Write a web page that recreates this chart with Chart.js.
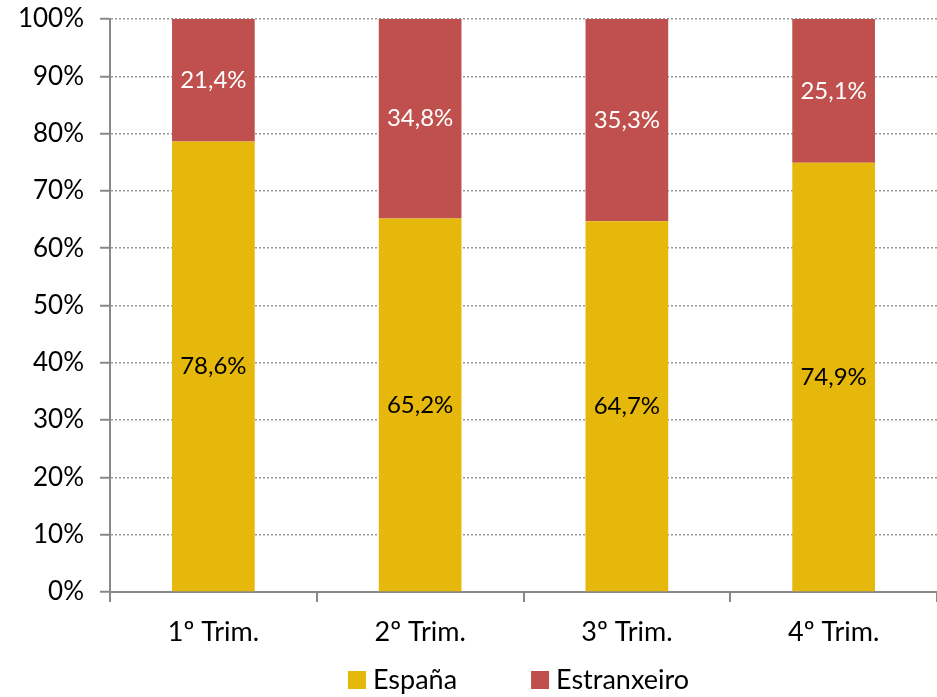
<!DOCTYPE html>
<html lang="gl">
<head>
  <meta charset="UTF-8" />
  <title>España / Estranxeiro por trimestre</title>
  <script src="https://cdn.jsdelivr.net/npm/chart.js"></script>
  <style>
    body { margin: 0; background: #fff; }
    .wrap { width: 937px; height: 697px; }
  </style>
</head>
<body>
  <div class="wrap"><canvas id="chart"></canvas></div>

  <script>
    // data
    const trimestres = ["1º Trim.", "2º Trim.", "3º Trim.", "4º Trim."];
    const espana = [78.6, 65.2, 64.7, 74.9];
    const estranxeiro = [21.4, 34.8, 35.3, 25.1];
    const yTicks = [0, 10, 20, 30, 40, 50, 60, 70, 80, 90, 100];

    const FONT = "Lato, 'Open Sans', sans-serif";

    // writes the value in the middle of each bar segment
    const barLabels = {
      id: "barLabels",
      afterDatasetsDraw(chart) {
        const ctx = chart.ctx;
        ctx.save();
        ctx.font = "24px " + FONT;
        ctx.textAlign = "center";
        ctx.textBaseline = "middle";
        chart.data.datasets.forEach((ds, i) => {
          const meta = chart.getDatasetMeta(i);
          meta.data.forEach((bar, j) => {
            const y = (bar.y + bar.base) / 2;
            ctx.fillStyle = ds.labelColor;
            ctx.fillText(ds.data[j].toFixed(1).replace(".", ",") + "%", bar.x, y);
          });
        });
        ctx.restore();
      }
    };

    // simple legend under the axis, square swatches like the original
    const bottomLegend = {
      id: "bottomLegend",
      afterDraw(chart) {
        const ctx = chart.ctx;
        const box = 18, gapText = 7, gapItem = 74;
        ctx.save();
        ctx.font = "27px " + FONT;
        ctx.textBaseline = "middle";
        const items = chart.data.datasets.map(ds => ({ text: ds.label, color: ds.backgroundColor, w: ctx.measureText(ds.label).width }));
        const total = items.reduce((s, it) => s + box + gapText + it.w, 0) + gapItem * (items.length - 1);
        const cx = (chart.chartArea.left + chart.chartArea.right) / 2 - 5;
        let x = cx - total / 2;
        const y = chart.height - 17;
        items.forEach(it => {
          ctx.fillStyle = it.color;
          ctx.fillRect(x, y - box / 2, box, box);
          x += box + gapText;
          ctx.fillStyle = "#000";
          ctx.fillText(it.text, x, y);
          x += it.w + gapItem;
        });
        ctx.restore();
      }
    };

    new Chart(document.getElementById("chart"), {
      type: "bar",
      data: {
        labels: trimestres,
        datasets: [
          { label: "España", data: espana, backgroundColor: "#E6B80B", labelColor: "#000" },
          { label: "Estranxeiro", data: estranxeiro, backgroundColor: "#C0504D", labelColor: "#fff" }
        ]
      },
      options: {
        responsive: true,
        maintainAspectRatio: false,
        animation: false,
        layout: { padding: { top: 19, right: 0, left: 0, bottom: 35 } },
        datasets: { bar: { categoryPercentage: 1, barPercentage: 0.4 } },
        plugins: {
          tooltip: { enabled: false },
          legend: { display: false }
        },
        scales: {
          x: {
            stacked: true,
            grid: { offset: true, drawOnChartArea: false, tickLength: 10, color: "#888", lineWidth: 2 },
            border: { color: "#888", width: 2 },
            ticks: { font: { family: FONT, size: 27 }, color: "#000", padding: 14 },
            afterFit(scale) { scale.height = 70; }
          },
          y: {
            stacked: true,
            min: 0,
            max: 100,
            afterBuildTicks(scale) { scale.ticks = yTicks.map(v => ({ value: v })); },
            grid: { color: "#999", lineWidth: 1.5, tickLength: 10, tickColor: "#888", tickWidth: 2, tickBorderDash: [] },
            border: { color: "#888", width: 2, dash: [2, 2] },
            ticks: {
              font: { family: FONT, size: 26 },
              color: "#000",
              padding: 16,
              callback: v => v + "%"
            },
            afterFit(scale) {
              scale.width = 110;
              scale.paddingTop = 0;
              scale.paddingBottom = 0;
            }
          }
        }
      },
      plugins: [barLabels, bottomLegend]
    });
  </script>
</body>
</html>
